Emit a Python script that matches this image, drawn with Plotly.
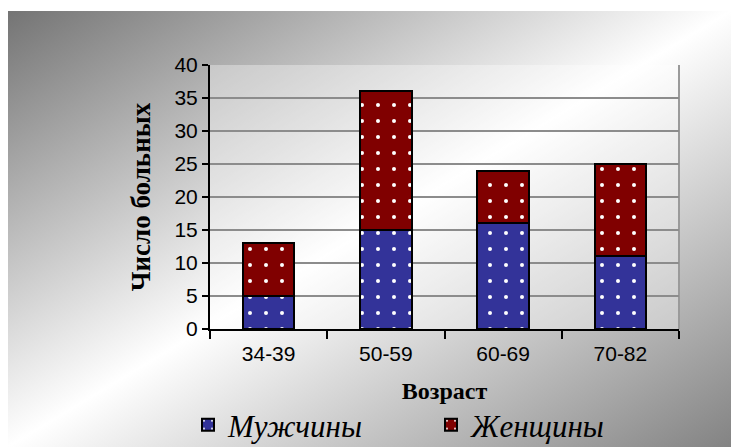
import base64
import plotly.graph_objects as go

# Age groups and patient counts by sex
age_groups = ["34-39", "50-59", "60-69", "70-82"]
men = [5, 15, 16, 11]
women = [8, 21, 8, 14]
y_ticks = [0, 5, 10, 15, 20, 25, 30, 35, 40]

W, H = 731, 447
L, R, T, B = 210, 52, 65, 118
pw, ph = W - L - R, H - T - B


def px_x(x):
    return (x - L) / pw


def px_y(y):
    return (H - B - y) / ph


# Diagonal grey-white-grey background panel
svg = (
    '<svg xmlns="http://www.w3.org/2000/svg" width="723" height="436" '
    'viewBox="0 0 723 436" preserveAspectRatio="none">'
    '<defs><linearGradient id="g" x1="0" y1="0" x2="1" y2="1">'
    '<stop offset="0" stop-color="#747474"/>'
    '<stop offset="0.5" stop-color="#ffffff"/>'
    '<stop offset="1" stop-color="#838383"/>'
    '</linearGradient></defs>'
    '<rect x="0" y="0" width="723" height="436" fill="url(#g)"/></svg>'
)
bg_src = "data:image/svg+xml;base64," + base64.b64encode(svg.encode()).decode()

fig = go.Figure()
fig.add_trace(go.Bar(
    x=age_groups, y=men, name="Мужчины", width=0.44,
    marker=dict(color="#333399", line=dict(color="black", width=2),
                pattern=dict(shape=".", bgcolor="#333399", fgcolor="white",
                             fgopacity=1, size=16, solidity=0.05,
                             fillmode="overlay")),
))
fig.add_trace(go.Bar(
    x=age_groups, y=women, name="Женщины", width=0.44,
    marker=dict(color="#800000", line=dict(color="black", width=2),
                pattern=dict(shape=".", bgcolor="#800000", fgcolor="white",
                             fgopacity=1, size=16, solidity=0.05,
                             fillmode="overlay")),
))

fig.update_layout(
    width=W, height=H,
    margin=dict(l=L, r=R, t=T, b=B, autoexpand=False),
    barmode="stack",
    paper_bgcolor="white",
    plot_bgcolor="rgba(0,0,0,0)",
    images=[dict(source=bg_src, xref="paper", yref="paper",
                 x=px_x(8), y=px_y(11), sizex=(W - 8) / pw, sizey=(H - 11) / ph,
                 xanchor="left", yanchor="top", sizing="stretch", layer="below")],
    shapes=[
        dict(type="rect", xref="paper", yref="paper", x0=0, x1=1, y0=0, y1=1,
             fillcolor="rgba(255,255,255,0.35)", line=dict(width=0), layer="below"),
        dict(type="line", xref="paper", yref="paper", x0=1, x1=1, y0=0, y1=1,
             line=dict(color="#9a9a9a", width=2), layer="below"),
    ],
    xaxis=dict(
        type="category", range=[-0.5, 3.5], tickson="boundaries",
        ticks="outside", ticklen=8, tickwidth=2, tickcolor="black",
        showline=True, linecolor="black", linewidth=2, showgrid=False,
        ticklabelstandoff=5,
        tickfont=dict(family="Liberation Sans", size=21, color="black"),
        title=dict(text="<b>Возраст</b>", standoff=18,
                   font=dict(family="Liberation Serif", size=24, color="black")),
    ),
    yaxis=dict(
        range=[0, 40], tickvals=y_ticks, ticks="outside", ticklen=6, tickwidth=2,
        tickcolor="black", showline=True, linecolor="black", linewidth=2,
        showgrid=True, gridcolor="#8c8c8c", gridwidth=2, zeroline=False,
        tickfont=dict(family="Liberation Sans", size=21, color="black"),
        title=dict(text="<b>Число больных</b>", standoff=16,
                   font=dict(family="Liberation Serif", size=27, color="black")),
    ),
    legend=dict(
        orientation="h", x=px_x(188), y=px_y(425), xanchor="left", yanchor="middle",
        bgcolor="rgba(0,0,0,0)", entrywidth=198, entrywidthmode="pixels",
        font=dict(family="Liberation Serif", size=31, color="black", style="italic"),
        traceorder="normal",
    ),
    showlegend=True,
)

fig.write_html("out.html")
